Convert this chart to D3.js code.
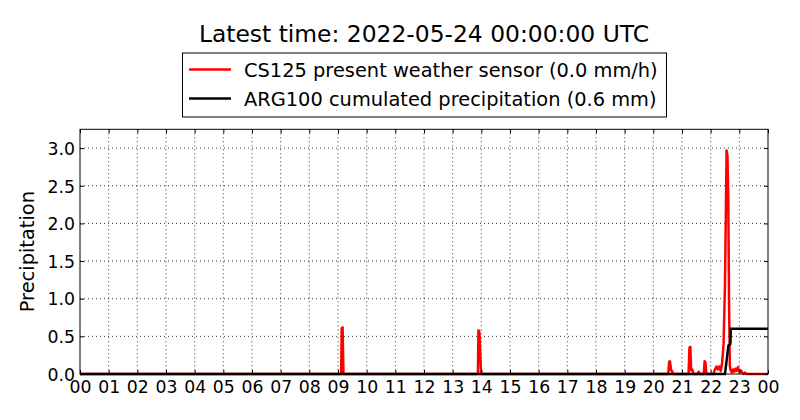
<!DOCTYPE html>
<html lang="en">
<head>
  <meta charset="UTF-8">
  <title>Precipitation</title>
  <script src="https://d3js.org/d3.v7.min.js"></script>
  <style>
    body { margin: 0; padding: 0; background: #fff; }
    svg { display: block; font-family: "DejaVu Sans", sans-serif; }
    .grid line { stroke: #000; stroke-width: 0.8px; stroke-dasharray: 1,3; }
    .tick-label { font-size: 17.3px; fill: #000; }
  </style>
</head>
<body>
  <svg id="chart" width="800" height="420"></svg>

  <script>
    // hours of the day (0 = 00 UTC of previous day, 24 = latest time)
    const hourLabels = ['00','01','02','03','04','05','06','07','08','09','10','11',
                        '12','13','14','15','16','17','18','19','20','21','22','23','00'];
    const yTicks = [0.0, 0.5, 1.0, 1.5, 2.0, 2.5, 3.0];

    // CS125 present weather sensor, mm/h
    const cs125Hours = [0, 9.11, 9.13, 9.16, 9.19,
      13.88, 13.90, 13.93, 13.99,
      20.52, 20.55, 20.58, 20.62, 20.65, 20.69,
      21.23, 21.26, 21.29, 21.32, 21.36, 21.40, 21.55, 21.58, 21.62,
      21.76, 21.79, 21.82, 21.85,
      22.1, 22.14, 22.2, 22.25, 22.3, 22.35, 22.4, 22.45, 22.5, 22.555, 22.585, 22.615, 22.64, 22.67,
      22.7, 22.74, 22.78, 22.82, 22.86, 22.9, 22.95, 23.0, 23.05, 23.1, 23.15, 23.2, 23.25, 24];
    const cs125Values = [0, 0, 0.61, 0.62, 0,
      0, 0.58, 0.57, 0,
      0, 0.16, 0.17, 0.05, 0.04, 0,
      0, 0.35, 0.36, 0.05, 0.06, 0, 0, 0.03, 0,
      0, 0.17, 0.15, 0,
      0, 0.05, 0.1, 0.06, 0.1, 0.04, 0.15, 0.4, 1.2, 2.97, 2.9, 2.33, 1.0, 0.1,
      0.05, 0.02, 0.06, 0.03, 0.07, 0.04, 0.09, 0.03, 0.05, 0.02, 0, 0.02, 0, 0];

    // ARG100 cumulated precipitation, mm
    const argHours = [0, 22.5, 22.62, 22.69, 22.7, 24];
    const argValues = [0, 0, 0.38, 0.4, 0.6, 0.6];

    const svg = d3.select('#chart');
    const plotLeft = 80, plotRight = 768, plotTop = 129.3, plotBottom = 374;

    const x = d3.scaleLinear().domain([0, 24]).range([plotLeft, plotRight]);
    const y = d3.scaleLinear().domain([0, 3.25]).range([plotBottom, plotTop]);

    // grid
    const grid = svg.append('g').attr('class', 'grid');
    grid.selectAll('.gx').data(d3.range(1, 24)).enter().append('line')
      .attr('x1', d => x(d)).attr('x2', d => x(d))
      .attr('y1', plotTop).attr('y2', plotBottom);
    grid.selectAll('.gy').data(yTicks.slice(1)).enter().append('line')
      .attr('x1', plotLeft).attr('x2', plotRight)
      .attr('y1', d => y(d)).attr('y2', d => y(d));

    // series
    const redPts = cs125Hours.map((h, i) => [h, cs125Values[i]]);
    const blackPts = argHours.map((h, i) => [h, argValues[i]]);
    const line = d3.line().x(d => x(d[0])).y(d => y(d[1]));

    svg.append('path').datum(redPts)
      .attr('d', line).attr('fill', 'none')
      .attr('stroke', '#ff0000').attr('stroke-width', 2.5)
      .attr('stroke-linejoin', 'round');
    svg.append('path').datum(blackPts)
      .attr('d', line).attr('fill', 'none')
      .attr('stroke', '#000').attr('stroke-width', 2.5)
      .attr('stroke-linejoin', 'miter');

    // axes (inward ticks on all four sides, matplotlib classic look)
    const xAxisB = d3.axisBottom(x).tickValues(d3.range(0, 25)).tickSize(-4).tickFormat(d => hourLabels[d]);
    const xAxisT = d3.axisTop(x).tickValues(d3.range(0, 25)).tickSize(-4).tickFormat('');
    const yAxisL = d3.axisLeft(y).tickValues(yTicks).tickSize(-4).tickFormat(d3.format('.1f'));
    const yAxisR = d3.axisRight(y).tickValues(yTicks).tickSize(-4).tickFormat('');

    function styleAxis(g) {
      g.select('.domain').remove();
      g.selectAll('.tick line').attr('stroke', '#000').attr('stroke-width', 1);
      g.selectAll('.tick text').attr('class', 'tick-label').attr('fill', '#000')
        .style('font-family', '"DejaVu Sans", sans-serif');
    }

    svg.append('g').attr('transform', `translate(0,${plotBottom})`).call(xAxisB).call(styleAxis)
      .selectAll('.tick text').attr('y', 7).attr('dy', '0.71em');
    svg.append('g').attr('transform', `translate(0,${plotTop})`).call(xAxisT).call(styleAxis);
    svg.append('g').attr('transform', `translate(${plotLeft},0)`).call(yAxisL).call(styleAxis)
      .selectAll('.tick text').attr('x', -5).attr('dy', '0.36em');
    svg.append('g').attr('transform', `translate(${plotRight},0)`).call(yAxisR).call(styleAxis);

    // frame
    svg.append('rect').attr('x', plotLeft).attr('y', plotTop)
      .attr('width', plotRight - plotLeft).attr('height', plotBottom - plotTop)
      .attr('fill', 'none').attr('stroke', '#000').attr('stroke-width', 1);

    // y label
    svg.append('text')
      .attr('transform', `translate(34,${(plotTop + plotBottom) / 2}) rotate(-90)`)
      .attr('text-anchor', 'middle')
      .style('font-size', '19.4px')
      .text('Precipitation');

    // title
    svg.append('text')
      .attr('x', (plotLeft + plotRight) / 2).attr('y', 42)
      .attr('text-anchor', 'middle')
      .style('font-size', '23.4px')
      .text('Latest time: 2022-05-24 00:00:00 UTC');

    // legend
    const legend = svg.append('g');
    legend.append('rect')
      .attr('x', 182.5).attr('y', 53).attr('width', 484).attr('height', 64)
      .attr('fill', '#fff').attr('stroke', '#000').attr('stroke-width', 1);
    const legendItems = [
      { label: 'CS125 present weather sensor (0.0 mm/h)', color: '#ff0000', cy: 69.5 },
      { label: 'ARG100 cumulated precipitation (0.6 mm)', color: '#000', cy: 98.5 }
    ];
    legendItems.forEach(it => {
      legend.append('line')
        .attr('x1', 189).attr('x2', 231).attr('y1', it.cy).attr('y2', it.cy)
        .attr('stroke', it.color).attr('stroke-width', 2.5);
      legend.append('text')
        .attr('x', 244).attr('y', it.cy + 7)
        .style('font-size', '19.4px')
        .text(it.label);
    });
  </script>
</body>
</html>
